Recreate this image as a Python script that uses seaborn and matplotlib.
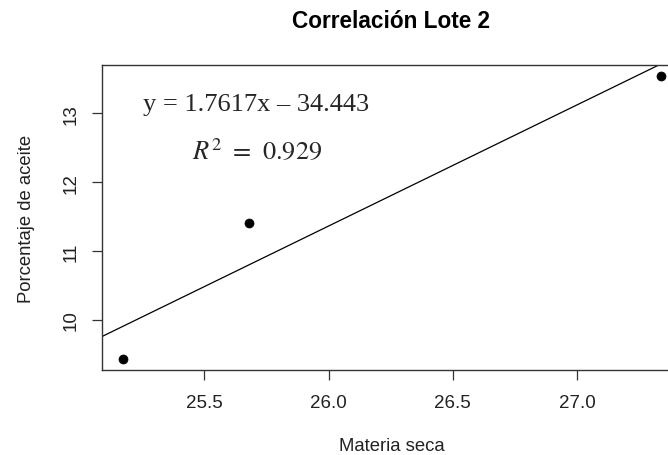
import pandas as pd
import matplotlib
matplotlib.use('Agg')
import matplotlib.pyplot as plt
import seaborn as sns

# Datos
materia_seca = [25.174, 25.681, 27.338]
aceite = [9.429, 11.405, 13.538]
pendiente = 1.7617
intercepto = -34.443
r2 = 0.929

df = pd.DataFrame({'Materia seca': materia_seca, 'Porcentaje de aceite': aceite})

sns.set_style('white')
plt.rcParams['font.family'] = ['Liberation Sans', 'DejaVu Sans']
plt.rcParams['mathtext.fontset'] = 'stix'

W, H = 668, 456
fig = plt.figure(figsize=(W / 100, H / 100), dpi=100)
# el eje derecho queda fuera de la imagen, como en el original
ax = fig.add_axes([101.7 / W, (H - 371.3) / H, 580.9 / W, 305.3 / H])

sns.scatterplot(data=df, x='Materia seca', y='Porcentaje de aceite', ax=ax,
                color='black', s=42, edgecolor='black', zorder=3)
ax.axline((0, intercepto), slope=pendiente, color='black', lw=0.9)

# limites estilo R (rango +- 4%)
xr = max(materia_seca) - min(materia_seca)
yr = max(aceite) - min(aceite)
ax.set_xlim(min(materia_seca) - 0.04 * xr, max(materia_seca) + 0.04 * xr)
ax.set_ylim(min(aceite) - 0.04 * yr, max(aceite) + 0.04 * yr)

ax.set_xticks([25.5, 26.0, 26.5, 27.0])
ax.set_xticklabels(['25.5', '26.0', '26.5', '27.0'])
ax.set_yticks([10, 11, 12, 13])
ax.set_yticklabels(['10', '11', '12', '13'], rotation=90, va='center')
ax.tick_params(axis='x', pad=9.4)
ax.tick_params(axis='y', pad=8.4)
ax.tick_params(axis='both', direction='out', length=7.5, width=0.9, color='#333333',
               labelsize=13.5, labelcolor='#222222', bottom=True, left=True)

for s in ax.spines.values():
    s.set_color('#333333')
    s.set_linewidth(1.0)

ax.set_xlabel('Materia seca', fontsize=13.3, color='#222222', labelpad=18.8)
ax.set_ylabel('Porcentaje de aceite', fontsize=13.3, color='#222222', labelpad=19.8)
fig.text(391 / W, 1 - 22 / H, 'Correlación Lote 2', ha='center', va='center',
         fontsize=16.3, fontweight='bold', color='black')

fig.text(256 / W, 1 - 105 / H,
         f'y = {pendiente}x – {abs(intercepto)}',
         ha='center', va='center', fontsize=19, family='Liberation Serif')
fig.text(257 / W, 1 - 151 / H,
         r'$R^2$ $=$ $' + f'{r2}' + '$',
         ha='center', va='center', fontsize=19)

fig.savefig('out.png', dpi=100)
